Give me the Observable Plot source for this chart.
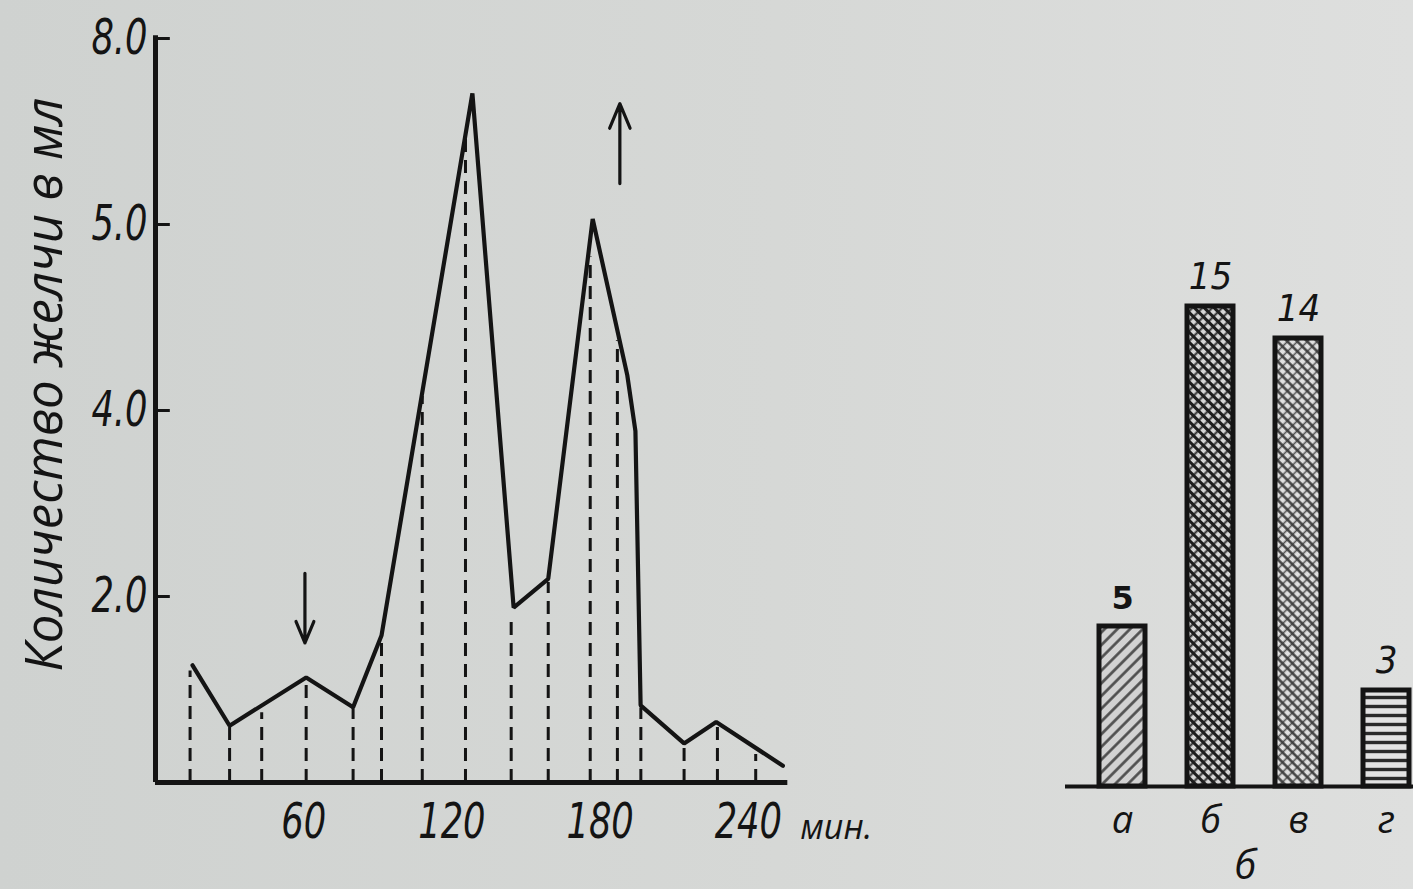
<!DOCTYPE html>
<html>
<head>
<meta charset="utf-8">
<script src="https://cdn.jsdelivr.net/npm/d3@7"></script>
<script src="https://cdn.jsdelivr.net/npm/@observablehq/plot@0.6"></script>
<style>
  html, body { margin: 0; padding: 0; }
  body {
    width: 1413px; height: 889px; overflow: hidden;
    background: linear-gradient(90deg, #cfd2d0 0%, #d6d8d6 55%, #dedfde 100%);
  }
  #wrap { position: relative; width: 1413px; height: 889px; }
  #left { position: absolute; left: 0; top: 0; }
  #right { position: absolute; left: 1040px; top: 0; }
</style>
</head>
<body>
<div id="wrap"><div id="left"></div><div id="right"></div></div>
<script>
// Panel a: bile output over time (minutes → ml)
const times   = [15, 30, 61, 80, 91.5, 128.3, 145, 159, 177, 191, 194.3, 196.4, 214, 227, 254];
const volumes = [1.26, 0.61, 1.13, 0.81, 1.58, 7.41, 1.88, 2.19, 6.06, 4.38, 3.78, 0.83, 0.42, 0.65, 0.18];

// Sampling moments, drawn as dashed drop lines up to the curve
const sampleTimes = [14, 30, 43, 61, 80, 91.5, 108, 125.5, 144, 159, 176, 187, 196.5, 214, 227.5, 243];
const sampleTops  = [1.2, 0.6, 0.75, 1.1, 0.8, 1.55, 4.15, 7.0, 1.8, 2.15, 5.65, 4.75, 0.8, 0.4, 0.63, 0.3];

// Axis ticks (the 6 ml tick is printed as "5.0")
const yTickValues = [2, 4, 6, 8];
const yTickLabels = ["2.0", "4.0", "5.0", "8.0"];
const xTickValues = [60, 120, 180, 240];
const xTickLabels = ["60", "120", "180", "240"];
const xUnit = "мин.";
const yTitle = "Количество желчи в мл";

// Event arrows: time, tail value, head value
const arrowTimes = [60.5, 188];
const arrowFrom  = [2.25, 6.44];
const arrowTo    = [1.5, 7.3];

// Panel b: counts per group
const categories = ["а", "б", "в", "г"];
const counts     = [5, 15, 14, 3];
const panelLabel = "б";

// ---------------------------------------------------------------
const ink = "#141414";
const digitFont = "'Liberation Sans Narrow', 'DejaVu Sans Condensed', sans-serif";
const textFont  = "'Open Sans', 'DejaVu Sans', sans-serif";

// Narrow the numerals horizontally around their anchor point
function condense(svg, selector, k) {
  d3.select(svg).selectAll(selector).each(function () {
    const t = this.getAttribute("transform") || "";
    this.setAttribute("transform", `${t} scale(${k},1)`);
  });
}

const curve   = times.map((t, i) => ({t, v: volumes[i]}));
const samples = sampleTimes.map((t, i) => ({t, v: sampleTops[i]}));
const arrows  = arrowTimes.map((t, i) => ({t, from: arrowFrom[i], to: arrowTo[i]}));

const left = Plot.plot({
  width: 900,
  height: 889,
  marginLeft: 155,
  marginRight: 112.68,
  marginTop: 38,
  marginBottom: 107,
  x: {domain: [0, 256]},
  y: {domain: [0, 8]},
  style: {background: "transparent", color: ink, fontFamily: digitFont, fontStyle: "italic"},
  marks: [
    Plot.ruleX(samples, {x: "t", y1: 0, y2: "v", stroke: ink, strokeWidth: 3, strokeDasharray: "13,8"}),
    Plot.line(curve, {x: "t", y: "v", stroke: ink, strokeWidth: 4.2, strokeLinejoin: "miter"}),
    Plot.ruleY([0], {stroke: ink, strokeWidth: 5}),
    Plot.ruleX([0], {y1: 0, y2: 8.03, stroke: ink, strokeWidth: 5}),
    Plot.ruleY(yTickValues, {x1: 0, x2: 6, stroke: ink, strokeWidth: 3}),
    Plot.axisY({
      ticks: yTickValues,
      tickFormat: d => yTickLabels[yTickValues.indexOf(d)],
      tickSize: 0, tickPadding: 8, fontSize: 49, label: null
    }),
    Plot.axisX({
      ticks: xTickValues,
      tickFormat: d => xTickLabels[xTickValues.indexOf(d)],
      tickSize: 0, tickPadding: 21, fontSize: 49, label: null
    }),
    Plot.text([xUnit], {
      x: [xTickValues[xTickValues.length - 1]], y: [0], text: d => d,
      dx: 52, dy: 56, textAnchor: "start", lineAnchor: "bottom",
      fontSize: 34, fontFamily: textFont
    }),
    Plot.text([yTitle], {
      text: d => d, frameAnchor: "left", textAnchor: "middle", lineAnchor: "middle",
      rotate: -90, dx: -110, dy: -26,
      fontSize: 51, fontFamily: textFont
    }),
    Plot.arrow(arrows, {
      x1: "t", x2: "t", y1: "from", y2: "to",
      stroke: ink, strokeWidth: 3.2, headLength: 16, headAngle: 45
    })
  ]
});
condense(left, 'g[aria-label="y-axis tick label"] text, g[aria-label="x-axis tick label"] text', 0.8);
document.getElementById("left").appendChild(left);

// ---------------------------------------------------------------
const bars = categories.map((c, i) => ({c, n: counts[i]}));
const barFill = {"а": "url(#fill-a)", "б": "url(#fill-b)", "в": "url(#fill-v)", "г": "url(#fill-g)"};

const right = Plot.plot({
  width: 373,
  height: 889,
  marginLeft: 25,
  marginRight: 0,
  marginTop: 146,
  marginBottom: 103,
  x: {domain: categories, paddingInner: 0.48, paddingOuter: 0.2, align: 0.9},
  y: {domain: [0, 20], axis: null},
  color: {type: "identity"},
  style: {background: "transparent", color: ink, fontFamily: digitFont, fontStyle: "italic"},
  marks: [
    Plot.barY(bars, {x: "c", y: "n", fill: d => barFill[d.c], stroke: ink, strokeWidth: 5}),
    Plot.ruleY([0], {stroke: ink, strokeWidth: 4}),
    Plot.text(bars.filter(d => d.c === "а"), {
      x: "c", y: "n", text: d => String(d.n), dy: -18, lineAnchor: "bottom",
      fontSize: 32, fontWeight: "bold", fontStyle: "normal", fontFamily: "'DejaVu Sans', sans-serif"
    }),
    Plot.text(bars.filter(d => d.c !== "а"), {
      x: "c", y: "n", text: d => String(d.n), dy: -18, lineAnchor: "bottom", fontSize: 38,
      ariaLabel: "count label"
    }),
    Plot.axisX({tickSize: 0, tickPadding: 20, fontSize: 38, fontFamily: textFont, label: null}),
    Plot.text([panelLabel], {
      text: d => d, frameAnchor: "bottom", dx: 6, dy: 92, fontSize: 40, fontFamily: textFont
    })
  ]
});
condense(right, 'g[aria-label="count label"] text', 0.8);

// Hatch patterns for the bars
const defs = d3.select(right).insert("defs", ":first-child");
function hatch(id, size, bg, lines) {
  const p = defs.append("pattern")
    .attr("id", id).attr("width", size).attr("height", size)
    .attr("patternUnits", "userSpaceOnUse")
    .attr("patternTransform", "rotate(45)");
  p.append("rect").attr("width", size).attr("height", size).attr("fill", bg);
  for (const l of lines) {
    p.append("line")
      .attr("x1", l.x1).attr("y1", l.y1).attr("x2", l.x2).attr("y2", l.y2)
      .attr("stroke", l.color).attr("stroke-width", l.w);
  }
}
hatch("fill-a", 9, "#d2d2d2", [{x1: 4.5, y1: 0, x2: 4.5, y2: 9, color: "#4a4a4a", w: 2.6}]);
hatch("fill-b", 7, "#d6d6d6", [
  {x1: 3.5, y1: 0, x2: 3.5, y2: 7, color: "#2e2e2e", w: 2.0},
  {x1: 0, y1: 3.5, x2: 7, y2: 3.5, color: "#1e1e1e", w: 3.0}
]);
hatch("fill-v", 7, "#e0e0e0", [
  {x1: 3.5, y1: 0, x2: 3.5, y2: 7, color: "#555", w: 1.6},
  {x1: 0, y1: 3.5, x2: 7, y2: 3.5, color: "#3a3a3a", w: 2.4}
]);
const g = defs.append("pattern")
  .attr("id", "fill-g").attr("width", 9).attr("height", 9)
  .attr("patternUnits", "userSpaceOnUse");
g.append("rect").attr("width", 9).attr("height", 9).attr("fill", "#e2e2e2");
g.append("line").attr("x1", 0).attr("y1", 4.5).attr("x2", 9).attr("y2", 4.5)
  .attr("stroke", "#2a2a2a").attr("stroke-width", 3.4);

document.getElementById("right").appendChild(right);
</script>
</body>
</html>
